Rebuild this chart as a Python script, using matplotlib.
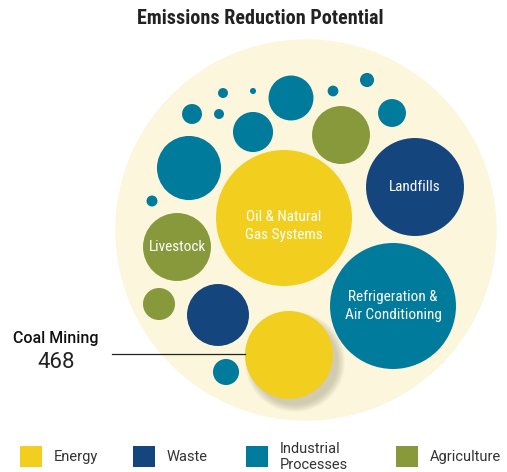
import matplotlib.pyplot as plt
from matplotlib.patches import Circle, Rectangle
import numpy as np

# sector colours
COLORS = {
    "Energy": "#F2CF1E",
    "Waste": "#14457D",
    "Industrial\nProcesses": "#017B9B",
    "Agriculture": "#88993C",
}
CATEGORIES = list(COLORS.keys())

# bubble layout (pixel grid), value -> area, label
NAMES = ["Oil & Natural\nGas Systems", "Refrigeration &\nAir Conditioning", "Landfills",
         "Coal Mining", "Livestock", "", "", "", "", "", "", "", "", "", "", "", "", ""]
VALUES = [1118, 959, 580, 468, 279, 248, 232, 203, 122, 97, 62, 47, 41, 24, 12, 7, 6, 2.2]
SECTOR = ["Energy", "Industrial\nProcesses", "Waste", "Energy", "Agriculture",
          "Industrial\nProcesses", "Waste", "Agriculture", "Industrial\nProcesses",
          "Industrial\nProcesses", "Agriculture", "Industrial\nProcesses",
          "Industrial\nProcesses", "Industrial\nProcesses", "Industrial\nProcesses",
          "Industrial\nProcesses", "Industrial\nProcesses", "Industrial\nProcesses"]
POS_X = [284, 393, 415, 289, 177, 189, 218, 341, 291, 253, 159, 392, 226, 192, 367, 333, 219, 253]
POS_Y = [218, 306, 187, 355, 247, 168, 315, 135, 98, 132, 304, 113, 372, 114, 80, 91, 114, 91]
# two more tiny dots
EXTRA_X = [223, 152]
EXTRA_Y = [93, 201]
EXTRA_V = [6, 7.3]

REF_VALUE = 468
REF_RADIUS = 44

NARROW = ["Roboto Condensed", "Roboto", "DejaVu Sans"]
PLAIN = ["Roboto", "DejaVu Sans"]

fig = plt.figure(figsize=(5.07, 4.72), dpi=100)
ax = fig.add_axes([0, 0, 1, 1])
ax.set_xlim(0, 507)
ax.set_ylim(472, 0)
ax.set_aspect("equal")
ax.axis("off")

# pale backdrop
ax.add_patch(Circle((306, 230), 190, color="#FCF6DD", zorder=0))


def radius(v):
    return REF_RADIUS * np.sqrt(v / REF_VALUE)


xs = POS_X + EXTRA_X
ys = POS_Y + EXTRA_Y
vals = VALUES + EXTRA_V
secs = SECTOR + ["Industrial\nProcesses"] * len(EXTRA_V)
names = NAMES + [""] * len(EXTRA_V)

for x, y, v, s, n in zip(xs, ys, vals, secs, names):
    r = radius(v)
    if n == "Coal Mining":
        # soft drop shadow
        for k in range(10):
            ax.add_patch(Circle((x + 6, y + 7), r + 6 - k * 0.8, color="#8f8a6e",
                                alpha=0.045, lw=0, zorder=1))
    ax.add_patch(Circle((x, y), r, color=COLORS[s], lw=0, zorder=2))
    if n and n != "Coal Mining":
        dy = 8 if s == "Energy" else 0
        ax.text(x, y + dy, n, color="white", ha="center", va="center", fontsize=11,
                family=NARROW, linespacing=1.45, zorder=3)

# callout
i = NAMES.index("Coal Mining")
cr = radius(VALUES[i])
ax.plot([112, POS_X[i] - cr], [POS_Y[i] - 1, POS_Y[i] - 1], color="#222222", lw=0.9, zorder=3)
ax.text(56, 338, "Coal Mining", ha="center", va="center", fontsize=11.5,
        family=PLAIN, fontweight="medium", color="#111111")
ax.text(56, 363, f"{VALUES[i]}", ha="center", va="center", fontsize=16,
        family=PLAIN, color="#222222")

ax.text(260, 18, "Emissions Reduction Potential", ha="center", va="center",
        fontsize=14.5, fontweight="bold", family=NARROW, color="#222222")

# legend
LEG_X = [20, 133, 246, 396]
for lx, c in zip(LEG_X, CATEGORIES):
    ax.add_patch(Rectangle((lx, 446), 22, 21, color=COLORS[c], lw=0))
    ax.text(lx + 34, 457, c, ha="left", va="center", fontsize=10.5, family=PLAIN,
            color="#333333", linespacing=1.1)

fig.savefig("out.png", dpi=100)
